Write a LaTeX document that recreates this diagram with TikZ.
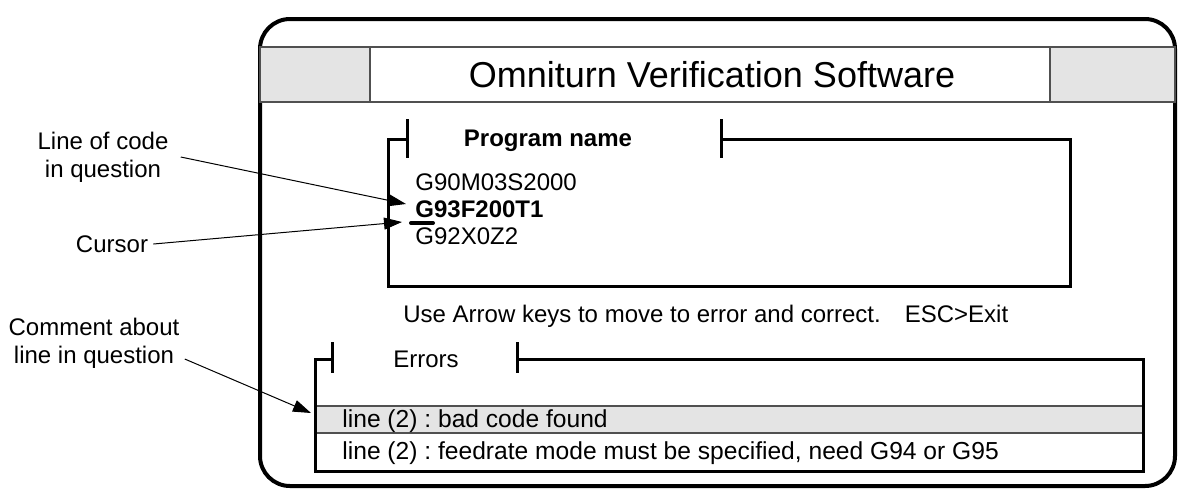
\documentclass[tikz,border=0pt]{standalone}
\usepackage{fontspec}
\setmainfont{Liberation Sans}
\usetikzlibrary{arrows.meta,positioning}
\definecolor{panelgray}{HTML}{E4E4E4}
\definecolor{rulegray}{HTML}{505050}
\frenchspacing

\begin{document}
\begin{tikzpicture}[
    x=0.5pt, y=-0.5pt,
    txt/.style={inner sep=0pt, font=\fontsize{12}{14}\selectfont},
    rowtxt/.style={inner sep=0pt, anchor=base west, font=\fontsize{12.3}{14}\selectfont},
    note/.style={txt, align=center},
    frame/.style={line width=1.5pt},
    thinrule/.style={line width=0.6pt, draw=rulegray},
    pointer/.style={-{Triangle[length=9pt,width=6pt]}, line width=0.5pt}
]
    \useasboundingbox (0,0) rectangle (1178,489);

    % screen outline and title bar
    \draw[line width=2pt, rounded corners=15pt] (260,19) rectangle (1175,486);
    \filldraw[thinrule, fill=panelgray] (260,47) rectangle (370,102);
    \filldraw[thinrule, fill=panelgray] (1050,47) rectangle (1175,102);
    \draw[thinrule] (370,47) -- (1050,47) (370,102) -- (1050,102);
    \node[font=\fontsize{18}{21}\selectfont, inner sep=0pt] (title) at (712,75) {Omniturn Verification Software};

    % program window
    \draw[frame] (407,139) -- (388,139) -- (388,286) -- (1070,286) -- (1070,139) -- (721,139);
    \draw[frame] (407,119) -- (407,158);
    \draw[frame] (721,119) -- (721,158);
    \node[txt] (progname) at (548,141) {\bfseries Program name};
    \node[txt, anchor=base west] (g90) at (415,190) {G90M03S2000};
    \node[txt, anchor=base west] (g93) at (415,217) {\bfseries G93F200T1};
    \node[txt, anchor=base west] (g92) at (415,244) {G92X0Z2};
    \draw[line width=2pt, line cap=round] (411,223) -- (433,223);

    \node[txt, anchor=base west] (hint) at (403,322) {Use Arrow keys to move to error and correct.\hspace{12pt}ESC>Exit};

    % error window
    \fill[panelgray] (315,406) rectangle (1143,433);
    \draw[thinrule] (315,406) -- (1143,406) (315,433) -- (1143,433);
    \draw[frame] (332,359) -- (315,359) -- (315,471) -- (1143,471) -- (1143,359) -- (517,359);
    \draw[frame] (332,342) -- (332,373);
    \draw[frame] (517,342) -- (517,373);
    \node[txt, anchor=base west] (errors) at (393,367) {Errors};
    \node[rowtxt] (row1) at (342,427) {line (2) : bad code found};
    \node[rowtxt] (row2) at (342,459) {line (2) : feedrate mode must be specified, need G94 or G95};

    % callouts
    \coordinate (codetip) at (406,204);
    \coordinate (cursortip) at (402,222);
    \coordinate (rowtip) at (311,413);
    \node[note] (lineq) at (103,157) {Line of code\\in question};
    \node[txt] (cursor) at (112,244) {Cursor};
    \node[note] (comment) at (94,343) {Comment about\\line in question};

    \draw[pointer] ([xshift=6pt]lineq.east) -- (codetip);
    \draw[pointer] ([xshift=2.5pt]cursor.east) -- (cursortip);
    \draw[pointer] ([xshift=2.5pt,yshift=-8pt]comment.east) -- (rowtip);
\end{tikzpicture}
\end{document}
